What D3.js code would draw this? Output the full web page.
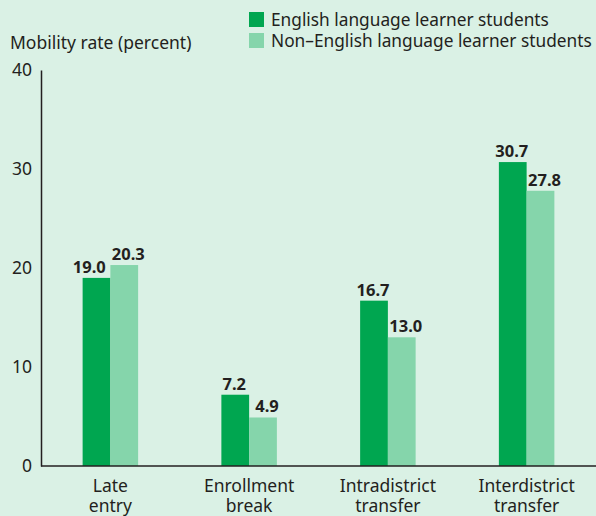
<!DOCTYPE html>
<html>
<head>
<meta charset="utf-8">
<script src="https://cdn.jsdelivr.net/npm/d3@7"></script>
<style>
	body { margin: 0; background: #daf1e5; }
	svg { display: block; font-family: "Noto Sans", sans-serif; }
	text { fill: #231f20; }
</style>
</head>
<body>
<div id="chart"></div>
<script>
const categories = ['Late entry', 'Enrollment break', 'Intradistrict transfer', 'Interdistrict transfer'];
const seriesNames = ['English language learner students', 'Non\u2013English language learner students'];
const ellValues = [19.0, 7.2, 16.7, 30.7];
const nonEllValues = [20.3, 4.9, 13.0, 27.8];
const yTicks = [0, 10, 20, 30, 40];
const colors = ['#00a650', '#85d5ab'];

const width = 596;
const height = 516;

const svg = d3.select('#chart').append('svg')
	.attr('width', width)
	.attr('height', height);

svg.append('rect')
	.attr('width', width)
	.attr('height', height)
	.attr('fill', '#daf1e5');

const x = d3.scaleBand()
	.domain(categories)
	.range([41, 596])
	.paddingInner(0.6)
	.paddingOuter(0.3);

const xInner = d3.scaleBand()
	.domain(seriesNames)
	.range([0, x.bandwidth()]);

const y = d3.scaleLinear()
	.domain([0, 40])
	.range([466, 70]);

const rows = categories.map((c, i) => ({
	category: c,
	values: [ellValues[i], nonEllValues[i]]
}));

// bars
const groups = svg.append('g')
	.selectAll('g')
	.data(rows)
	.join('g')
	.attr('transform', d => `translate(${x(d.category)},0)`);

groups.selectAll('rect')
	.data(d => d.values.map((v, j) => ({ v, name: seriesNames[j], j })))
	.join('rect')
	.attr('x', d => xInner(d.name))
	.attr('y', d => y(d.v))
	.attr('width', xInner.bandwidth())
	.attr('height', d => y(0) - y(d.v))
	.attr('fill', d => colors[d.j]);

// value labels; second series nudged right a little, first one pushed
// left when both labels sit at about the same height
groups.each(function (d) {
	const g = d3.select(this);
	const labels = d.values.map((v, j) => g.append('text')
		.attr('x', xInner(seriesNames[j]) + xInner.bandwidth() / 2 + (j === 1 ? 4 : -1))
		.attr('y', y(v) - 5)
		.attr('text-anchor', 'middle')
		.attr('font-size', 16.5)
		.attr('font-weight', 'bold')
		.text(v.toFixed(1)));

	if (Math.abs(y(d.values[0]) - y(d.values[1])) < 18) {
		const right = labels[1].node().getBBox().x;
		labels[0].attr('text-anchor', 'end').attr('x', right - 6);
	}
});

// y axis
const yAxis = svg.append('g')
	.attr('transform', 'translate(41,0)')
	.call(d3.axisLeft(y).tickValues(yTicks).tickSize(0).tickPadding(9));
yAxis.select('.domain').attr('stroke', '#231f20').attr('stroke-width', 1.5);
yAxis.selectAll('text')
	.attr('font-size', 17.5)
	.attr('font-family', '"Noto Sans", sans-serif')
	.attr('fill', '#231f20');

// x axis: just the baseline, labels are drawn below
const xAxis = svg.append('g')
	.attr('transform', `translate(0,${y(0)})`)
	.call(d3.axisBottom(x).tickSize(0));
xAxis.selectAll('.tick').remove();
xAxis.select('.domain').attr('stroke', '#231f20').attr('stroke-width', 1.5)
	.attr('d', `M41,0H${width}`);

// category labels, two lines each (second line runs off the bottom, as in the source)
const catLabels = svg.append('g')
	.selectAll('text')
	.data(categories)
	.join('text')
	.attr('x', d => x(d) + x.bandwidth() / 2)
	.attr('y', 492)
	.attr('text-anchor', 'middle')
	.attr('font-size', 17.5);

catLabels.selectAll('tspan')
	.data(d => d.split(' '))
	.join('tspan')
	.attr('x', function () { return d3.select(this.parentNode).attr('x'); })
	.attr('dy', (d, i) => i === 0 ? 0 : 20)
	.text(d => d);

// axis title
svg.append('text')
	.attr('x', 10)
	.attr('y', 49)
	.attr('font-size', 17.5)
	.text('Mobility rate (percent)');

// legend
const legend = svg.append('g')
	.selectAll('g')
	.data(seriesNames)
	.join('g')
	.attr('transform', (d, i) => `translate(249,${12 + i * 21})`);

legend.append('rect')
	.attr('width', 15)
	.attr('height', 15)
	.attr('fill', (d, i) => colors[i]);

legend.append('text')
	.attr('x', 22)
	.attr('y', 14)
	.attr('font-size', 17.3)
	.text(d => d);
</script>
</body>
</html>
